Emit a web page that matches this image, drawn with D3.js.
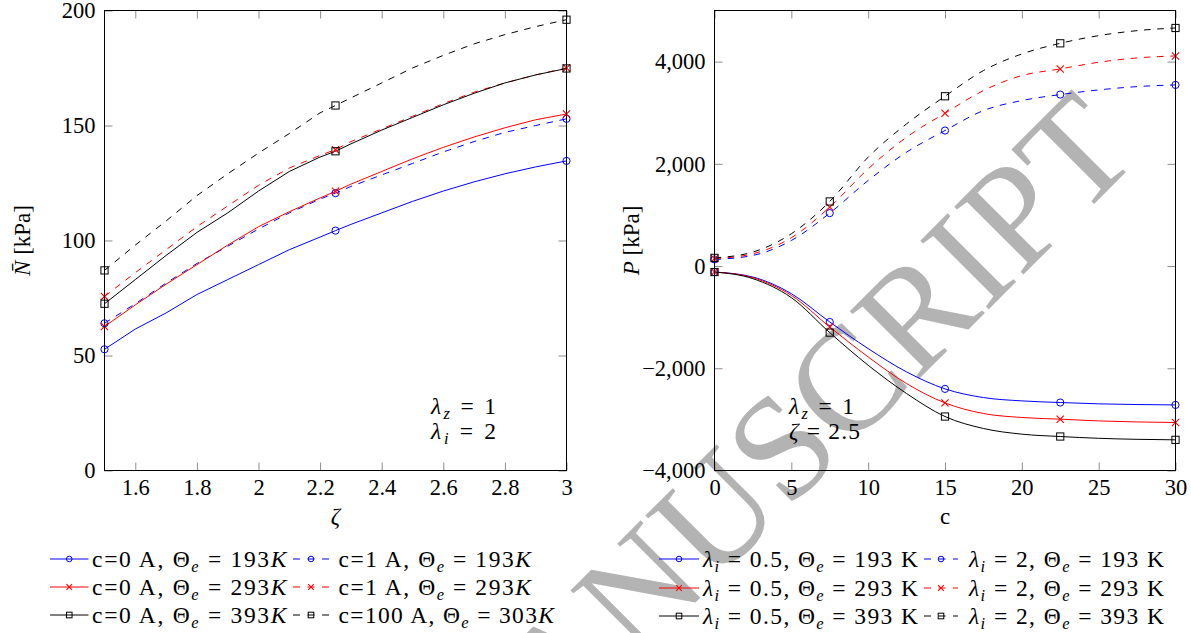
<!DOCTYPE html>
<html>
<head>
<meta charset="utf-8">
<script src="https://cdnjs.cloudflare.com/ajax/libs/d3/7.8.5/d3.min.js"></script>
<style>
  body { margin: 0; background: #fff; }
  text { white-space: pre; }
</style>
</head>
<body>
<svg id="chart"></svg>
<script>
// ---- left panel: N bar vs zeta ----
var zeta = [1.5, 1.6, 1.7, 1.8, 1.9, 2.0, 2.1, 2.2, 2.25, 2.3, 2.4, 2.5, 2.6, 2.7, 2.8, 2.9, 3.0];
var nC0T193   = [52.7, 61.5, 68.5, 76.5, 83, 89.5, 96, 101.5, 104.3, 107, 112, 117, 121.5, 125.5, 129, 132, 134.6];
var nC1T193   = [64, 72.5, 81.5, 90, 97.5, 105, 112, 118, 120.6, 123.5, 128.5, 133.5, 138.5, 143, 147, 150, 152.9];
var nC0T293   = [62.6, 72, 81, 89.5, 98, 106, 112.5, 118.5, 121.4, 124.5, 130, 135.5, 140.5, 145, 149, 152.5, 155];
var nC1T293   = [75.7, 86, 96, 106, 115, 124, 131.5, 137, 139.5, 143, 148.5, 154, 159.5, 164.5, 168.5, 172, 175];
var nC0T393   = [72.5, 83, 93.5, 103.5, 112, 121.5, 130, 136.3, 138.8, 142, 148, 153.5, 159, 164, 168.5, 172, 174.8];
var nC100T303 = [87, 98, 108.5, 119.5, 129, 138, 146.5, 155.5, 158.7, 162, 168.5, 175, 180.5, 185.5, 189.5, 193, 196];
var markZeta = [1.5, 2.25, 3];
var leftXTicks = [1.6, 1.8, 2, 2.2, 2.4, 2.6, 2.8, 3];
var leftYTicks = [0, 50, 100, 150, 200];

// ---- right panel: P vs c ----
var cVals = [0, 2.5, 5, 7.5, 10, 12.5, 15, 17.5, 20, 22.5, 25, 27.5, 30];
var pL05T193 = [-117, -215, -540, -1094, -1615, -2071, -2403, -2573, -2638, -2670, -2696, -2709, -2717];
var pL05T293 = [-117, -228, -573, -1192, -1778, -2299, -2677, -2885, -2963, -2996, -3030, -3050, -3061];
var pL05T393 = [-117, -247, -618, -1302, -1941, -2494, -2944, -3178, -3289, -3335, -3370, -3390, -3400];
var pL2T193  = [130, 208, 500, 1036, 1674, 2228, 2651, 3042, 3238, 3355, 3446, 3511, 3544];
var pL2T293  = [145, 241, 554, 1153, 1902, 2521, 2990, 3433, 3726, 3857, 3987, 4072, 4111];
var pL2T393  = [160, 274, 632, 1264, 2130, 2782, 3322, 3824, 4150, 4358, 4508, 4606, 4658];
var markC = [0, 7.5, 15, 22.5, 30];
var rightXTicks = [0, 5, 10, 15, 20, 25, 30];
var rightYTicks = [-4000, -2000, 0, 2000, 4000];

var blue = "#0000ff", red = "#ff0000", black = "#000000";
var FONT = '"Liberation Serif", "Times New Roman", Times, "DejaVu Serif", serif';

// label pieces: [text, style]  style: i = italic, s = subscript
var leftSeries = [
  {v: nC0T193, color: blue, dash: false, mark: "circle", label: [["c=0 A, Θ"], ["e", "si"], [" = 193"], ["K", "i"]]},
  {v: nC1T193, color: blue, dash: true, mark: "circle", label: [["c=1 A, Θ"], ["e", "si"], [" = 193"], ["K", "i"]]},
  {v: nC0T293, color: red, dash: false, mark: "x", label: [["c=0 A, Θ"], ["e", "si"], [" = 293"], ["K", "i"]]},
  {v: nC1T293, color: red, dash: true, mark: "x", label: [["c=1 A, Θ"], ["e", "si"], [" = 293"], ["K", "i"]]},
  {v: nC0T393, color: black, dash: false, mark: "square", label: [["c=0 A, Θ"], ["e", "si"], [" = 393"], ["K", "i"]]},
  {v: nC100T303, color: black, dash: true, mark: "square", label: [["c=100 A, Θ"], ["e", "si"], [" = 303"], ["K", "i"]]}
];
var rightSeries = [
  {v: pL05T193, color: blue, dash: false, mark: "circle", label: [["λ", "i"], ["i", "si"], [" = 0.5, Θ"], ["e", "si"], [" = 193 K"]]},
  {v: pL2T193, color: blue, dash: true, mark: "circle", label: [["λ", "i"], ["i", "si"], [" = 2, Θ"], ["e", "si"], [" = 193 K"]]},
  {v: pL05T293, color: red, dash: false, mark: "x", label: [["λ", "i"], ["i", "si"], [" = 0.5, Θ"], ["e", "si"], [" = 293 K"]]},
  {v: pL2T293, color: red, dash: true, mark: "x", label: [["λ", "i"], ["i", "si"], [" = 2, Θ"], ["e", "si"], [" = 293 K"]]},
  {v: pL05T393, color: black, dash: false, mark: "square", label: [["λ", "i"], ["i", "si"], [" = 0.5, Θ"], ["e", "si"], [" = 393 K"]]},
  {v: pL2T393, color: black, dash: true, mark: "square", label: [["λ", "i"], ["i", "si"], [" = 2, Θ"], ["e", "si"], [" = 393 K"]]}
];

var width = 1191, height = 633;
var svg = d3.select("#chart").attr("width", width).attr("height", height)
  .style("font-family", FONT);

// watermark behind everything
svg.append("text")
  .attr("transform", "translate(1142,156) rotate(-45)")
  .attr("text-anchor", "end")
  .attr("fill", "#b3b3b3")
  .style("font-size", "148px")
  .text("ACCEPTED MANUSCRIPT");

// writes mixed italic / subscript pieces into a text element
function rich(t, parts) {
  var shift = 0;
  parts.forEach(function(p) {
    var s = p[1] || "";
    var ts = t.append("tspan").text(p[0]);
    if (s.indexOf("i") >= 0) ts.style("font-style", "italic");
    var want = s.indexOf("s") >= 0 ? 5 : 0;
    if (want !== shift) { ts.attr("dy", want - shift); shift = want; }
    if (want) ts.style("font-size", "70%");
  });
  return t;
}

function drawMark(g, type, x, y, color, r) {
  if (type === "circle") {
    g.append("circle").attr("cx", x).attr("cy", y).attr("r", r)
      .attr("fill", "none").attr("stroke", color).attr("stroke-width", 1);
  } else if (type === "square") {
    g.append("rect").attr("x", x - r).attr("y", y - r).attr("width", 2 * r).attr("height", 2 * r)
      .attr("fill", "none").attr("stroke", color).attr("stroke-width", 1);
  } else {
    g.append("path").attr("d", "M" + (x - r) + "," + (y - r) + "L" + (x + r) + "," + (y + r) +
        "M" + (x - r) + "," + (y + r) + "L" + (x + r) + "," + (y - r))
      .attr("fill", "none").attr("stroke", color).attr("stroke-width", 1.1);
  }
}

function panel(opt) {
  var x = opt.x, y = opt.y;
  var g = svg.append("g");
  var x0 = x.range()[0], x1 = x.range()[1], y0 = y.range()[0], y1 = y.range()[1];

  // inward ticks on all four sides
  var bottom = g.append("g").attr("transform", "translate(0," + y0 + ")")
    .call(d3.axisBottom(x).tickValues(opt.xTicks).tickFormat(opt.xFormat).tickSizeInner(-8).tickSizeOuter(0).tickPadding(9));
  var top = g.append("g").attr("transform", "translate(0," + y1 + ")")
    .call(d3.axisTop(x).tickValues(opt.xTicks).tickFormat("").tickSizeInner(-8).tickSizeOuter(0));
  var left = g.append("g").attr("transform", "translate(" + x0 + ",0)")
    .call(d3.axisLeft(y).tickValues(opt.yTicks).tickFormat(opt.yFormat).tickSizeInner(-8).tickSizeOuter(0).tickPadding(9));
  var right = g.append("g").attr("transform", "translate(" + x1 + ",0)")
    .call(d3.axisRight(y).tickValues(opt.yTicks).tickFormat("").tickSizeInner(-8).tickSizeOuter(0));
  [bottom, top, left, right].forEach(function(a) {
    a.attr("font-family", null).attr("font-size", null);
    a.select(".domain").remove();
    a.selectAll(".tick line").attr("stroke", "#8c8c8c");
    a.selectAll("text").style("font-size", "22.5px").attr("fill", "#000");
  });

  // lines
  opt.series.forEach(function(s) {
    var pts = opt.xs.map(function(d, i) { return [d, s.v[i]]; });
    g.append("path")
      .attr("d", d3.line().x(function(d) { return x(d[0]); }).y(function(d) { return y(d[1]); }).curve(opt.curve)(pts))
      .attr("fill", "none").attr("stroke", s.color).attr("stroke-width", 1)
      .attr("stroke-dasharray", s.dash ? "6.6,6.6" : null);
  });
  opt.series.forEach(function(s) {
    opt.xs.forEach(function(d, i) {
      if (opt.marks.indexOf(d) >= 0) drawMark(g, s.mark, x(d), y(s.v[i]), s.color, 3.6);
    });
  });

  // frame
  g.append("rect").attr("x", x0).attr("y", y1).attr("width", x1 - x0).attr("height", y0 - y1)
    .attr("fill", "none").attr("stroke", "#000").attr("stroke-width", 1);

  // axis titles
  rich(g.append("text").attr("x", (x0 + x1) / 2).attr("y", 524).attr("text-anchor", "middle")
    .style("font-size", "23px"), opt.xTitle);
  rich(g.append("text").attr("transform", "translate(" + opt.yTitleX + "," + ((y0 + y1) / 2) + ") rotate(-90)")
    .attr("text-anchor", "middle").style("font-size", "23px"), opt.yTitle);

  // note
  opt.note.forEach(function(n, i) {
    rich(g.append("text").attr("x", opt.noteX).attr("y", 414 + i * 25)
      .attr("textLength", n.w).attr("lengthAdjust", "spacing")
      .style("font-size", "23.5px"), n.parts);
  });

  // legend, two columns
  opt.series.forEach(function(s, i) {
    var col = i % 2, row = Math.floor(i / 2);
    var L = opt.legend;
    var ly = L.rows[row];
    var sx = L.sample[col];
    var line = g.append("line").attr("x1", sx[0]).attr("x2", sx[1]).attr("y1", ly).attr("y2", ly)
      .attr("stroke", s.color).attr("stroke-width", 1);
    if (s.dash) line.attr("stroke-dasharray", "7,7.5,7,7.5,7,100");
    drawMark(g, s.mark, (sx[0] + sx[1]) / 2, ly, s.color, 2.8);
    rich(g.append("text").attr("x", L.textX[col]).attr("y", ly + 7.5)
      .attr("textLength", L.widths[i]).attr("lengthAdjust", "spacing")
      .style("font-size", "23.5px"), s.label);
  });
}

panel({
  x: d3.scaleLinear().domain([1.5, 3]).range([104.5, 566.5]),
  y: d3.scaleLinear().domain([0, 200]).range([470.5, 10.5]),
  xs: zeta, marks: markZeta, series: leftSeries, curve: d3.curveLinear,
  xTicks: leftXTicks, yTicks: leftYTicks,
  xFormat: d3.format("~g"), yFormat: d3.format("d"),
  xTitle: [["ζ", "i"]],
  yTitle: [["N\u0304", "i"], [" [kPa]"]], yTitleX: 30,
  noteX: 431,
  note: [{parts: [["λ", "i"], ["z", "si"], [" = 1"]], w: 65}, {parts: [["λ", "i"], ["i", "si"], [" = 2"]], w: 65}],
  legend: {rows: [559, 587, 615], sample: [[50, 88.5], [293, 329]], textX: [92, 338.5],
           widths: [194.5, 192.5, 194.5, 192.5, 194.5, 215.5]}
});

panel({
  x: d3.scaleLinear().domain([0, 30]).range([714.5, 1175.5]),
  y: d3.scaleLinear().domain([-4000, 5000]).range([470.5, 10.5]),
  xs: cVals, marks: markC, series: rightSeries, curve: d3.curveMonotoneX,
  xTicks: rightXTicks, yTicks: rightYTicks,
  xFormat: d3.format("d"), yFormat: d3.format(","),
  xTitle: [["c"]],
  yTitle: [["P", "i"], [" [kPa]"]], yTitleX: 638.5,
  noteX: 789,
  note: [{parts: [["λ", "i"], ["z", "si"], [" = 1"]], w: 65}, {parts: [["ζ", "i"], [" = 2.5"]], w: 71}],
  legend: {rows: [559, 588, 616], sample: [[659, 699], [924, 958]], textX: [703, 969],
           widths: [215, 195, 215, 195, 215, 195]}
});

// make sure every text uses the serif family
svg.selectAll("text").style("font-family", FONT);
</script>
</body>
</html>
